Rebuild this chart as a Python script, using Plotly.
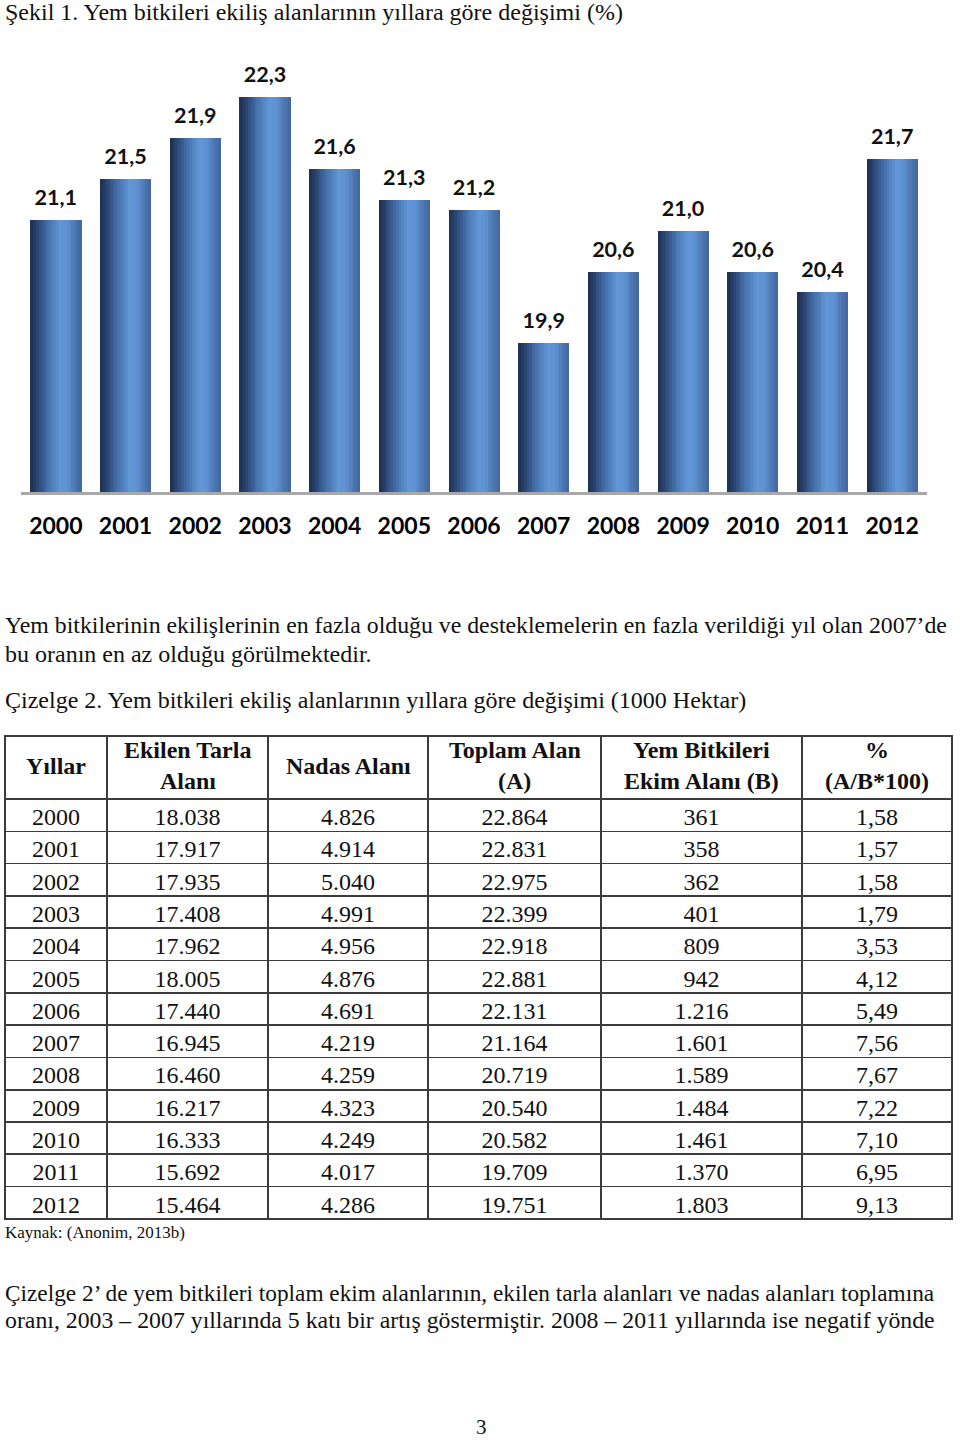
import plotly.graph_objects as go

# ---------------- data ----------------
years = ["2000", "2001", "2002", "2003", "2004", "2005", "2006",
         "2007", "2008", "2009", "2010", "2011", "2012"]
share_pct = [21.1, 21.5, 21.9, 22.3, 21.6, 21.3, 21.2, 19.9, 20.6, 21.0, 20.6, 20.4, 21.7]

ekilen = [18038, 17917, 17935, 17408, 17962, 18005, 17440, 16945, 16460, 16217, 16333, 15692, 15464]
nadas = [4826, 4914, 5040, 4991, 4956, 4876, 4691, 4219, 4259, 4323, 4249, 4017, 4286]
toplam = [22864, 22831, 22975, 22399, 22918, 22881, 22131, 21164, 20719, 20540, 20582, 19709, 19751]
yem = [361, 358, 362, 401, 809, 942, 1216, 1601, 1589, 1484, 1461, 1370, 1803]
oran = [1.58, 1.57, 1.58, 1.79, 3.53, 4.12, 5.49, 7.56, 7.67, 7.22, 7.10, 6.95, 9.13]

header_labels = ["Yıllar", "Ekilen Tarla<br>Alanı", "Nadas Alanı",
                 "Toplam Alan<br>(A)", "Yem Bitkileri<br>Ekim Alanı (B)", "%<br>(A/B*100)"]

title_text = "Şekil 1. Yem bitkileri ekiliş alanlarının yıllara göre değişimi (%)"
para1 = ["Yem bitkilerinin ekilişlerinin en fazla olduğu ve desteklemelerin en fazla verildiği yıl olan 2007’de",
         "bu oranın en az olduğu görülmektedir."]
table_title = "Çizelge 2. Yem bitkileri ekiliş alanlarının yıllara göre değişimi (1000 Hektar)"
source_text = "Kaynak: (Anonim, 2013b)"
para2 = ["Çizelge 2’ de yem bitkileri toplam ekim alanlarının, ekilen tarla alanları ve nadas alanları toplamına",
         "oranı, 2003 – 2007 yıllarında 5 katı bir artış göstermiştir. 2008 – 2011 yıllarında ise negatif yönde"]
page_no = "3"

# ---------------- helpers ----------------
W, H = 960, 1440
def px(x): return x / W
def py(y): return 1 - y / H

def fmt_thousand(v):
    return f"{v:,}".replace(",", ".")

def fmt_dec(v):
    return f"{v:.2f}".replace(".", ",")

def lerp_color(stops, t):
    for (t0, c0), (t1, c1) in zip(stops[:-1], stops[1:]):
        if t0 <= t <= t1:
            f = (t - t0) / (t1 - t0) if t1 > t0 else 0
            c = [round(a + (b - a) * f) for a, b in zip(c0, c1)]
            return f"rgb({c[0]},{c[1]},{c[2]})"
    c = stops[-1][1]
    return f"rgb({c[0]},{c[1]},{c[2]})"

shade = [(0.0, (28, 46, 80)), (0.12, (40, 66, 108)), (0.32, (66, 108, 166)),
         (0.58, (98, 150, 214)), (0.72, (96, 146, 210)), (0.88, (76, 118, 176)),
         (1.0, (66, 102, 156))]

fig = go.Figure()

# cylinder-like bars from vertical strips
bar_w = 0.73
n_strips = 18
sw = bar_w / n_strips
for i in range(n_strips):
    t = (i + 0.5) / n_strips
    fig.add_trace(go.Bar(
        x=years, y=share_pct, base=0,
        width=sw * 1.08, offset=-bar_w / 2 + i * sw,
        marker=dict(color=lerp_color(shade, t), line=dict(width=0)),
        hoverinfo="skip", showlegend=False,
    ))

# value labels
fig.add_trace(go.Scatter(
    x=years, y=share_pct, mode="markers+text",
    marker=dict(size=14, color="rgba(0,0,0,0)"),
    text=[f"{v:.1f}".replace(".", ",") for v in share_pct],
    textposition="top center",
    textfont=dict(family="Lato", size=21.5, color="#111111", weight="bold"),
    hoverinfo="skip", showlegend=False, cliponaxis=False,
))

y_base = 18.45
px_per_unit = 102.5
y_top = y_base + (492 - 60) / px_per_unit

fig.update_layout(
    width=W, height=H,
    margin=dict(l=0, r=0, t=0, b=0),
    paper_bgcolor="white", plot_bgcolor="white",
    barmode="overlay", bargap=0,
    xaxis=dict(domain=[px(21), px(927)], range=[-0.5, 12.5], type="category",
               showline=True, linecolor="#a8a8a8", linewidth=2.5,
               ticks="outside", ticklen=12, tickcolor="rgba(0,0,0,0)",
               tickfont=dict(family="Lato", size=23, color="#000000", weight="bold"),
               showgrid=False, zeroline=False, fixedrange=True),
    yaxis=dict(domain=[py(492), py(60)], range=[y_base, y_top],
               visible=False, showgrid=False, zeroline=False, fixedrange=True),
)

serif = "Liberation Serif"
def text_line(s, x, y, size=24, color="#111111", xanchor="left"):
    fig.add_annotation(x=px(x), y=py(y), xref="paper", yref="paper", xanchor=xanchor,
                       yanchor="middle", text=s, showarrow=False,
                       font=dict(family=serif, size=size, color=color))

text_line(title_text, 3, 12)
text_line(para1[0], 3, 625, size=23.8)
text_line(para1[1], 3, 654)
text_line(table_title, 3, 700)
text_line(source_text, 3, 1232, size=17)
text_line(para2[0], 3, 1293, size=23.3)
text_line(para2[1], 3, 1320, size=23.8)
text_line(page_no, 481, 1427, size=21, xanchor="center")

# ---------------- table ----------------
colw = [102, 161, 160, 173, 201, 150]
tx0, ty0 = 5, 736
head_h = 63
row_h = 32.3
ty1 = ty0 + head_h + row_h * len(years)

cells = [years,
         [fmt_thousand(v) for v in ekilen],
         [fmt_thousand(v) for v in nadas],
         [fmt_thousand(v) for v in toplam],
         [fmt_thousand(v) for v in yem],
         [fmt_dec(v) for v in oran]]

fig.add_trace(go.Table(
    domain=dict(x=[px(tx0), px(tx0 + sum(colw))], y=[py(ty1 + 4), py(ty0)]),
    columnwidth=colw,
    header=dict(values=[""] * len(header_labels), height=head_h, align="center",
                fill_color="white", line=dict(color="#3c3c3c", width=1.6),
                font=dict(family=serif, size=24, color="#111111")),
    cells=dict(values=cells, height=row_h, align="center",
               fill_color="white", line=dict(color="#3c3c3c", width=1.6),
               font=dict(family=serif, size=24, color="#111111")),
))

# header texts centred in each header cell
cx = tx0
for w_, h in zip(colw, header_labels):
    lines = h.split("<br>")
    n = len(lines)
    for k, ln in enumerate(lines):
        yc = ty0 + head_h / 2 - 2 + (k - (n - 1) / 2) * 31
        text_line("<b>" + ln + "</b>", cx + w_ / 2, yc, size=24, xanchor="center")
    cx += w_

fig.write_html("out.html")
